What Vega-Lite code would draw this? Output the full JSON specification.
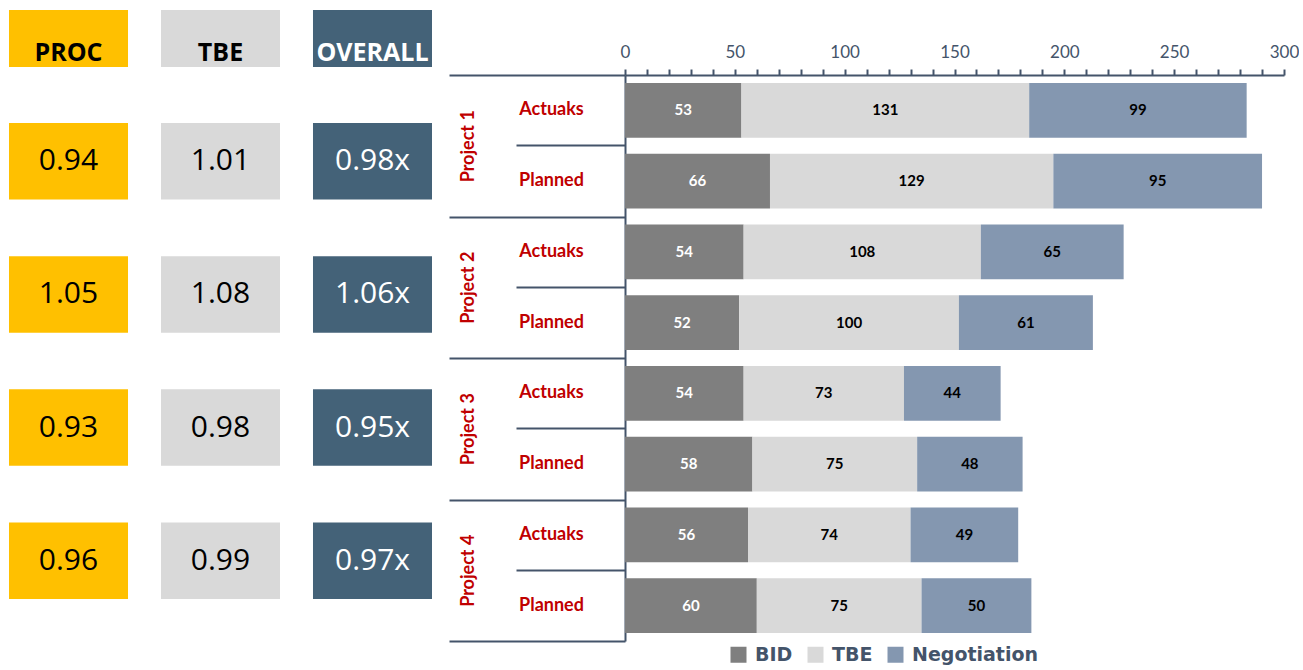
{
  "$schema": "https://vega.github.io/schema/vega-lite/v6.json",
  "background": "white",
  "padding": {"left": 0, "top": 10, "right": 0, "bottom": 0},
  "autosize": {"type": "pad"},
  "config": {"view": {"stroke": null}},
  "datasets": {
    "headers": [{"metric": "PROC"}, {"metric": "TBE"}, {"metric": "OVERALL"}],
    "table": [
      {"project": "Project 1", "metric": "PROC", "value": 0.94},
      {"project": "Project 1", "metric": "TBE", "value": 1.01},
      {"project": "Project 1", "metric": "OVERALL", "value": 0.98},
      {"project": "Project 2", "metric": "PROC", "value": 1.05},
      {"project": "Project 2", "metric": "TBE", "value": 1.08},
      {"project": "Project 2", "metric": "OVERALL", "value": 1.06},
      {"project": "Project 3", "metric": "PROC", "value": 0.93},
      {"project": "Project 3", "metric": "TBE", "value": 0.98},
      {"project": "Project 3", "metric": "OVERALL", "value": 0.95},
      {"project": "Project 4", "metric": "PROC", "value": 0.96},
      {"project": "Project 4", "metric": "TBE", "value": 0.99},
      {"project": "Project 4", "metric": "OVERALL", "value": 0.97}
    ],
    "bars": [
      {"project": "Project 1", "plan": "Actuaks", "stage": "BID", "value": 53},
      {"project": "Project 1", "plan": "Actuaks", "stage": "TBE", "value": 131},
      {"project": "Project 1", "plan": "Actuaks", "stage": "Negotiation", "value": 99},
      {"project": "Project 1", "plan": "Planned", "stage": "BID", "value": 66},
      {"project": "Project 1", "plan": "Planned", "stage": "TBE", "value": 129},
      {"project": "Project 1", "plan": "Planned", "stage": "Negotiation", "value": 95},
      {"project": "Project 2", "plan": "Actuaks", "stage": "BID", "value": 54},
      {"project": "Project 2", "plan": "Actuaks", "stage": "TBE", "value": 108},
      {"project": "Project 2", "plan": "Actuaks", "stage": "Negotiation", "value": 65},
      {"project": "Project 2", "plan": "Planned", "stage": "BID", "value": 52},
      {"project": "Project 2", "plan": "Planned", "stage": "TBE", "value": 100},
      {"project": "Project 2", "plan": "Planned", "stage": "Negotiation", "value": 61},
      {"project": "Project 3", "plan": "Actuaks", "stage": "BID", "value": 54},
      {"project": "Project 3", "plan": "Actuaks", "stage": "TBE", "value": 73},
      {"project": "Project 3", "plan": "Actuaks", "stage": "Negotiation", "value": 44},
      {"project": "Project 3", "plan": "Planned", "stage": "BID", "value": 58},
      {"project": "Project 3", "plan": "Planned", "stage": "TBE", "value": 75},
      {"project": "Project 3", "plan": "Planned", "stage": "Negotiation", "value": 48},
      {"project": "Project 4", "plan": "Actuaks", "stage": "BID", "value": 56},
      {"project": "Project 4", "plan": "Actuaks", "stage": "TBE", "value": 74},
      {"project": "Project 4", "plan": "Actuaks", "stage": "Negotiation", "value": 49},
      {"project": "Project 4", "plan": "Planned", "stage": "BID", "value": 60},
      {"project": "Project 4", "plan": "Planned", "stage": "TBE", "value": 75},
      {"project": "Project 4", "plan": "Planned", "stage": "Negotiation", "value": 50}
    ]
  },
  "columns": 2,
  "align": "each",
  "bounds": "flush",
  "spacing": {"row": 8, "column": 184},
  "resolve": {"scale": {"color": "independent"}, "legend": {"color": "independent"}},
  "concat": [
    {
      "width": 441,
      "height": 57,
      "data": {"name": "headers"},
      "encoding": {
        "x": {"field": "metric", "type": "nominal", "sort": ["PROC", "TBE", "OVERALL"],
              "scale": {"domain": ["PROC", "TBE", "OVERALL"], "paddingInner": 0.217, "paddingOuter": 0.0592}, "axis": null}
      },
      "layer": [
        {"mark": {"type": "rect"},
         "encoding": {"color": {"field": "metric", "type": "nominal",
           "scale": {"domain": ["PROC", "TBE", "OVERALL"], "range": ["#FFC000", "#D9D9D9", "#446278"]}, "legend": null}}},
        {"mark": {"type": "text", "font": "Open Sans", "fontWeight": "bold", "fontSize": 25, "dy": 14},
         "encoding": {"text": {"field": "metric"},
           "color": {"condition": {"test": "datum.metric === 'OVERALL'", "value": "#FFFFFF"}, "value": "#000000"}}}
      ]
    },
    {
      "width": 659,
      "height": 57,
      "data": {"values": [{"stage": "none"}]},
      "mark": {"type": "point", "opacity": 0},
      "encoding": {}
    },
    {
      "width": 441,
      "height": 572,
      "data": {"name": "table"},
      "transform": [
        {"calculate": "format(datum.value, '.2f') + (datum.metric === 'OVERALL' ? 'x' : '')", "as": "label"}
      ],
      "encoding": {
        "x": {"field": "metric", "type": "nominal", "sort": ["PROC", "TBE", "OVERALL"],
              "scale": {"domain": ["PROC", "TBE", "OVERALL"], "paddingInner": 0.217, "paddingOuter": 0.0592}, "axis": null},
        "y": {"field": "project", "type": "nominal",
              "scale": {"paddingInner": 0.426, "paddingOuter": 0.36}, "axis": null}
      },
      "layer": [
        {"mark": {"type": "rect"},
         "encoding": {"color": {"field": "metric", "type": "nominal",
           "scale": {"domain": ["PROC", "TBE", "OVERALL"], "range": ["#FFC000", "#D9D9D9", "#446278"]}, "legend": null}}},
        {"mark": {"type": "text", "font": "Open Sans", "fontSize": 30},
         "encoding": {"text": {"field": "label"},
           "color": {"condition": {"test": "datum.metric === 'OVERALL'", "value": "#FFFFFF"}, "value": "#000000"}}}
      ]
    },
    {
      "width": 659,
      "height": 566,
      "data": {"name": "bars"},
      "transform": [
        {"calculate": "indexof(['BID','TBE','Negotiation'], datum.stage)", "as": "idx"},
        {"calculate": "datum.project + '|' + datum.plan", "as": "key"},
        {"stack": "value", "groupby": ["key"], "sort": [{"field": "idx", "order": "ascending"}], "as": ["x0", "x1"]},
        {"calculate": "(datum.x0 + datum.x1) / 2", "as": "mid"}
      ],
      "layer": [
        {
          "layer": [
            {
              "mark": {"type": "bar"},
              "encoding": {
                "y": {"field": "key", "type": "nominal",
                      "scale": {"paddingInner": 0.223, "paddingOuter": 0.1115},
                      "axis": {"title": null, "orient": "left", "ticks": false, "domain": true,
                               "domainColor": "#44546A", "domainWidth": 2,
                               "labelExpr": "split(datum.label, '|')[1]",
                               "labelFont": "Lato", "labelFontWeight": "bold", "labelFontSize": 18,
                               "labelColor": "#C00000", "labelAlign": "center", "labelBaseline": "middle",
                               "labelPadding": 74}},
                "x": {"field": "x0", "type": "quantitative",
                      "scale": {"domain": [0, 300], "nice": false},
                      "axis": {"orient": "top", "title": null, "grid": false,
                               "values": [0, 10, 20, 30, 40, 50, 60, 70, 80, 90, 100, 110, 120, 130, 140, 150, 160, 170, 180, 190, 200, 210, 220, 230, 240, 250, 260, 270, 280, 290, 300],
                               "labelExpr": "datum.value % 50 === 0 ? datum.label : ''",
                               "tickSize": 6, "tickWidth": 2, "tickColor": "#44546A",
                               "domainColor": "#44546A", "domainWidth": 2,
                               "labelFont": "Lato", "labelFontSize": 17, "labelColor": "#44546A",
                               "labelPadding": 8, "labelFlush": false, "labelOverlap": false}},
                "x2": {"field": "x1"},
                "color": {"field": "stage", "type": "nominal",
                          "scale": {"domain": ["BID", "TBE", "Negotiation"], "range": ["#7F7F7F", "#D9D9D9", "#8497B0"]},
                          "legend": {"orient": "none", "legendX": 104, "legendY": 570, "direction": "horizontal",
                                     "title": null, "symbolType": "square", "symbolSize": 256, "symbolStrokeWidth": 0,
                                     "labelFont": "DejaVu Sans", "labelFontWeight": "bold", "labelFontSize": 19,
                                     "labelColor": "#44546A", "labelOffset": 7, "columnPadding": 13}}
              }
            },
            {
              "mark": {"type": "text", "font": "Lato", "fontWeight": "bold", "fontSize": 15},
              "encoding": {
                "y": {"field": "key", "type": "nominal"},
                "x": {"field": "mid", "type": "quantitative",
                      "axis": {"orient": "top", "title": null, "grid": false,
                               "values": [0, 10, 20, 30, 40, 50, 60, 70, 80, 90, 100, 110, 120, 130, 140, 150, 160, 170, 180, 190, 200, 210, 220, 230, 240, 250, 260, 270, 280, 290, 300],
                               "labelExpr": "datum.value % 50 === 0 ? datum.label : ''",
                               "tickSize": 6, "tickWidth": 2, "tickColor": "#44546A",
                               "domainColor": "#44546A", "domainWidth": 2,
                               "labelFont": "Lato", "labelFontSize": 17, "labelColor": "#44546A",
                               "labelPadding": 8, "labelFlush": false, "labelOverlap": false}},
                "text": {"field": "value"},
                "color": {"condition": {"test": "datum.stage === 'BID'", "value": "#FFFFFF"}, "value": "#000000"}
              }
            }
          ]
        },
        {
          "mark": {"type": "tick", "opacity": 0},
          "encoding": {
            "x": {"field": "x1", "type": "quantitative",
                  "axis": {"orient": "top", "title": null, "grid": false,
                           "values": [0, 10, 20, 30, 40, 50, 60, 70, 80, 90, 100, 110, 120, 130, 140, 150, 160, 170, 180, 190, 200, 210, 220, 230, 240, 250, 260, 270, 280, 290, 300],
                           "labelExpr": "datum.value % 50 === 0 ? datum.label : ''",
                           "tickSize": 6, "tickWidth": 2, "tickColor": "#44546A",
                           "domainColor": "#44546A", "domainWidth": 2,
                           "labelFont": "Lato", "labelFontSize": 17, "labelColor": "#44546A",
                           "labelPadding": 8, "labelFlush": false, "labelOverlap": false}},
            "y": {"field": "project", "type": "nominal",
                  "scale": {"paddingInner": 0, "paddingOuter": 0},
                  "axis": {"orient": "left", "title": null, "domain": false, "tickBand": "extent",
                           "tickSize": 176, "tickWidth": 2, "tickColor": "#44546A",
                           "labelAngle": 270, "labelAlign": "center", "labelBaseline": "middle",
                           "labelPadding": -19, "labelFont": "Lato", "labelFontWeight": "bold",
                           "labelFontSize": 18, "labelColor": "#C00000"}}
          }
        },
        {
          "mark": {"type": "tick", "opacity": 0},
          "encoding": {
            "x": {"field": "x1", "type": "quantitative",
                  "axis": {"orient": "top", "title": null, "grid": false,
                           "values": [0, 10, 20, 30, 40, 50, 60, 70, 80, 90, 100, 110, 120, 130, 140, 150, 160, 170, 180, 190, 200, 210, 220, 230, 240, 250, 260, 270, 280, 290, 300],
                           "labelExpr": "datum.value % 50 === 0 ? datum.label : ''",
                           "tickSize": 6, "tickWidth": 2, "tickColor": "#44546A",
                           "domainColor": "#44546A", "domainWidth": 2,
                           "labelFont": "Lato", "labelFontSize": 17, "labelColor": "#44546A",
                           "labelPadding": 8, "labelFlush": false, "labelOverlap": false}},
            "y": {"field": "project", "type": "nominal",
                  "scale": {"paddingInner": 0, "paddingOuter": 0},
                  "axis": {"orient": "left", "title": null, "domain": false, "tickBand": "center",
                           "tickSize": 109, "tickWidth": 2, "tickColor": "#44546A", "labels": false}}
          }
        }
      ],
      "resolve": {"scale": {"y": "independent"}, "axis": {"y": "independent"}}
    }
  ]
}
